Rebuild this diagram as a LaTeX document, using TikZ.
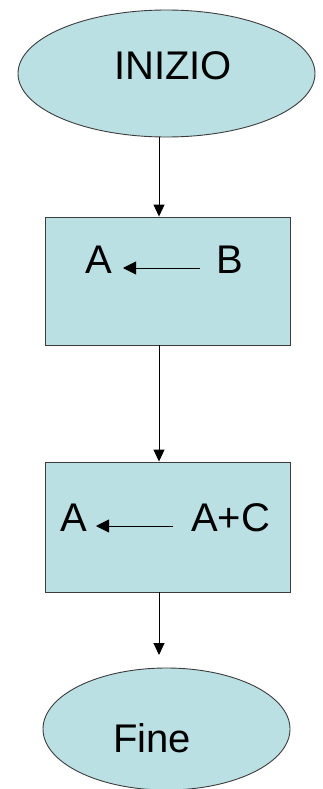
\documentclass[tikz,border=0pt]{standalone}
\usepackage{fontspec}
\setmainfont{Liberation Sans}
\usetikzlibrary{shapes.geometric,arrows.meta}
\definecolor{fillc}{RGB}{186,224,227}
\definecolor{edgec}{RGB}{60,60,60}
\begin{document}
\begin{tikzpicture}[x=1pt,y=-1pt,
  term/.style={ellipse,draw=edgec,fill=fillc,line width=0.9pt,inner sep=0pt},
  procbox/.style={rectangle,draw=edgec,fill=fillc,line width=0.9pt,inner sep=0pt},
  lbl/.style={inner sep=0pt,font=\fontsize{40}{48}\selectfont,anchor=center},
  conn/.style={line width=0.9pt,-{Triangle[length=12pt,width=11pt]}},
  assign/.style={line width=0.9pt,-{Triangle[length=13pt,width=13pt]}}]
\useasboundingbox (0,0) rectangle (323,789);
\node[term,minimum width=297pt,minimum height=127pt] (inizio) at (166.5,73.5) {};
\node[lbl] (tinizio) at (173,66) {INIZIO};
\node[procbox,minimum width=245pt,minimum height=128pt] (box1) at (167.5,281) {};
\node[lbl] (a1) at (99,260) {A};
\node[lbl] (b1) at (230,260) {B};
\coordinate (a1e) at (123,268);
\coordinate (b1w) at (200,268);
\node[procbox,minimum width=245pt,minimum height=130pt] (box2) at (167.5,527) {};
\node[lbl] (a2) at (74,518) {A};
\node[lbl] (ac2) at (230.5,518) {A+C};
\coordinate (a2e) at (96,526);
\coordinate (ac2w) at (173,526);
\node[term,minimum width=247pt,minimum height=122pt] (fine) at (166.5,729) {};
\node[lbl] (tfine) at (152,738) {Fine};
\coordinate (tip3) at (159,655);
\draw[conn] ([xshift=-7.5pt]inizio.south) -- ([xshift=-8.5pt]box1.north);
\draw[conn] ([xshift=-8.5pt]box1.south) -- ([xshift=-8.5pt]box2.north);
\draw[conn] ([xshift=-8.5pt]box2.south) -- (tip3);
\draw[assign] (b1w) -- (a1e);
\draw[assign] (ac2w) -- (a2e);
\end{tikzpicture}
\end{document}
